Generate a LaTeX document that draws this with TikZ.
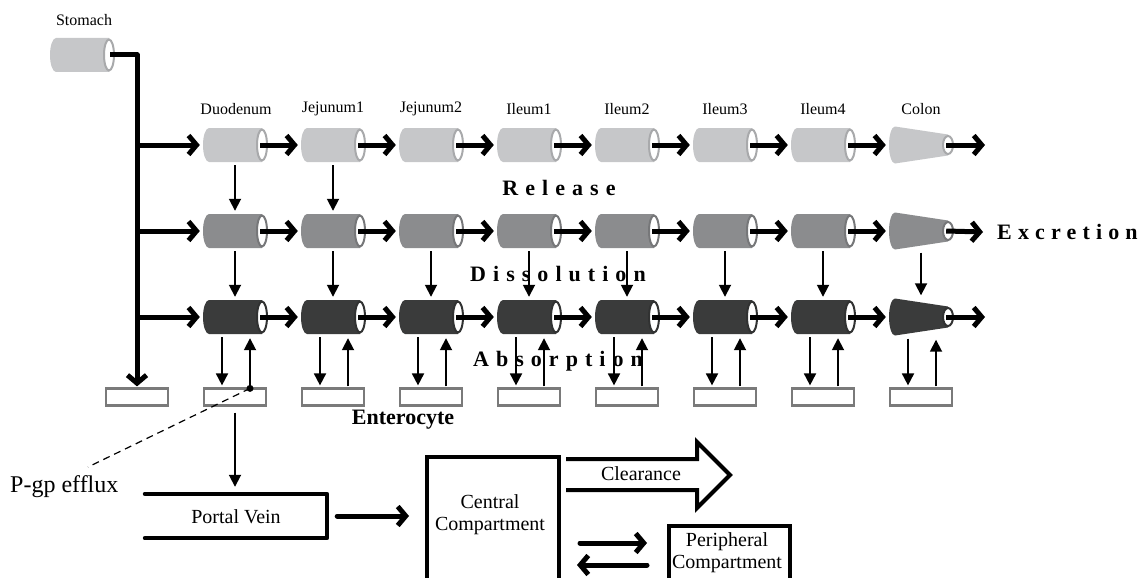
\documentclass[tikz,border=0pt]{standalone}
\usepackage{fontspec}
\setmainfont{Liberation Serif}
\newfontfamily\spacedfont[LetterSpace=32]{Liberation Serif}
\newfontfamily\spacedfontb[LetterSpace=28]{Liberation Serif}
\usetikzlibrary{arrows.meta}
\definecolor{cLight}{HTML}{C6C7C9}
\definecolor{cMid}{HTML}{8B8C8E}
\definecolor{cDark}{HTML}{3A3B3B}
\definecolor{cBox}{HTML}{7A7A7A}
\newcommand\fsLab{\fontsize{16}{18}\selectfont}
\newcommand\fsMid{\fontsize{20}{22}\selectfont}
\newcommand\fsSp{\spacedfont\bfseries\fontsize{22}{24}\selectfont}
\newcommand\fsSpb{\spacedfontb\bfseries\fontsize{22}{24}\selectfont}
% cylinder: name, cx, cy, colour
\newcommand\mycyl[4]{%
  \fill[#4] ({#2+27},{#3-17}) -- ({#2-26},{#3-17})
     arc[start angle=270,end angle=90,x radius=6,y radius=17]
     -- ({#2+27},{#3+17}) -- cycle;
  \draw[line width=2pt,#4!85!black,fill=white] ({#2+27},{#3}) ellipse[x radius=5,y radius=15.5];
  \node[cylnode] (#1) at (#2,#3) {};
}
% cone (colon): name, cx, cy, colour
\newcommand\mycone[4]{%
  \fill[#4] ({#2+27},{#3-10.5}) -- ({#2-26},{#3-18.5})
     arc[start angle=270,end angle=90,x radius=6,y radius=18.5]
     -- ({#2+27},{#3+10.5}) -- cycle;
  \draw[line width=2pt,#4!85!black,fill=white] ({#2+27},{#3}) ellipse[x radius=5,y radius=9];
  \node[cylnode,minimum height=37pt] (#1) at (#2,#3) {};
}
\begin{document}
\begin{tikzpicture}[x=1pt,y=-1pt,
  thickarr/.style={line width=5pt,-{Straight Barb[length=8pt,width=19pt]}},
  thinarr/.style={line width=1.8pt,-{Triangle[length=12pt,width=12pt]}},
  cylnode/.style={minimum width=64pt,minimum height=34pt,inner sep=0pt},
  entbox/.style={draw=cBox,line width=2.2pt,fill=white,minimum width=62pt,minimum height=17pt,inner sep=0pt},
  bigbox/.style={draw,line width=4pt,inner sep=0pt},
  lab/.style={font=\fsLab,inner sep=0pt}]
\useasboundingbox (0,0) rectangle (1143,578);

% stomach
\mycyl{st}{82}{55}{cLight}
\node[lab] (stlab) at (84,20) {Stomach};
\coordinate (jn) at (137,55);

% rows
\foreach \i/\x in {1/235,2/333,3/431,4/529,5/627,6/725,7/823}{
  \mycyl{a\i}{\x}{145}{cLight}
  \mycyl{b\i}{\x}{231}{cMid}
  \mycyl{d\i}{\x}{317}{cDark}
}
\mycone{a8}{921}{145}{cLight}
\mycone{b8}{921}{231}{cMid}
\mycone{d8}{921}{317}{cDark}

% labels
\foreach \i/\x/\t in {1/236/Duodenum,2/333/Jejunum1,3/431/Jejunum2,4/529/Ileum1,5/627/Ileum2,6/725/Ileum3,7/823/Ileum4,8/921/Colon}{
  \node[lab] (lab\i) at (\x,109) {\t};
}

% enterocytes
\foreach \i/\x in {0/137,1/235,2/333,3/431,4/529,5/627,6/725,7/823,8/921}{
  \node[entbox] (e\i) at (\x,397) {};
}

% stomach trunk
\draw[thickarr,line join=round] ([xshift=-4pt]st.east) -- (jn) -- ([yshift=1pt]e0.north);
\foreach \r in {a,b,d}{
  \draw[thickarr] (jn |- \r1.west) -- ([xshift=-3pt]\r1.west);
}

% horizontal chain
\foreach \r in {a,b,d}{
  \foreach \i [evaluate=\i as \j using int(\i+1)] in {1,...,7}{
    \draw[thickarr] ([xshift=-7pt]\r\i.east) -- ([xshift=-3pt]\r\j.west);
  }
}
\coordinate (aend) at (985,145);
\coordinate (dend) at (985,317);
\node[font=\fsSpb,anchor=west,inner sep=0pt] (excr) at (997,232) {Excretion};
\draw[thickarr] ([xshift=-7pt]a8.east) -- (aend);
\draw[thickarr] ([xshift=-7pt]b8.east) -- ([xshift=-14pt]excr.west);
\draw[thickarr] ([xshift=-7pt]d8.east) -- (dend);

% release arrows
\foreach \i in {1,2}{
  \draw[thinarr,shorten <=3pt,shorten >=3pt] (a\i.south) -- (b\i.north);
}
\foreach \i in {1,...,8}{
  \draw[thinarr,shorten <=3pt,shorten >=3pt] (b\i.south) -- (d\i.north);
}
% absorption arrows
\foreach \i in {1,...,8}{
  \draw[thinarr,shorten <=3pt,shorten >=2pt] ([xshift=-13pt]d\i.south) -- ([xshift=-13pt]e\i.north);
}
\foreach \i in {2,...,8}{
  \draw[thinarr,shorten <=1pt,shorten >=4pt] ([xshift=15pt]e\i.north) -- ([xshift=15pt]d\i.south);
}
\node[circle,fill,inner sep=0pt,minimum size=7pt] (dot) at ([xshift=15pt,yshift=-1pt]e1.north) {};
\draw[thinarr,shorten >=4pt] (dot.center) -- ([xshift=15pt]d1.south);

% process labels
\node[font=\fsSp,inner sep=0pt] (rel) at (559,188) {Release};
\node[font=\fsSp,inner sep=0pt] (dis) at (558,274) {Dissolution};
\node[font=\fsSp,inner sep=0pt] (abs) at (558,361) {Absorption};
\node[font=\bfseries\fontsize{22}{24}\selectfont,inner sep=0pt] (ent) at (403,420) {Enterocyte};

% P-gp efflux
\node[font=\fontsize{24}{26}\selectfont,inner sep=0pt,anchor=base west] (pgp) at (10,492) {P-gp efflux};
\coordinate (pgpend) at (88,467);
\draw[line width=1.2pt,dash pattern=on 7pt off 5pt] (dot.center) -- (pgpend);

% portal vein
\node[minimum width=182pt,minimum height=44pt,inner sep=0pt] (portal) at (236,516) {};
\node[font=\fsMid,inner sep=0pt] (portaltxt) at (236,517) {Portal Vein};
\draw[line width=4pt,line cap=round,line join=round] (portal.north west) -- (portal.north east) -- (portal.south east) -- (portal.south west);
\draw[thinarr,shorten <=6pt,shorten >=7pt] (e1.south) -- (e1.south |- portal.north);

% central compartment
\node[bigbox,minimum width=132pt,minimum height=160pt,anchor=north west] (central) at (425,455) {};
\node[font=\fsMid,align=center,inner sep=0pt] (centraltxt) at (490,515) {Central\\Compartment};
\draw[thickarr,line cap=round] ([xshift=10pt]portal.east) -- ([xshift=-16pt]central.west |- portal.east);

% clearance
\draw[line width=4pt,line join=miter] (566,459) -- (697,459) -- (697,442) -- (730,475) -- (697,508) -- (697,490) -- (566,490);
\node[font=\fsMid,inner sep=0pt] (clear) at (641,474) {Clearance};

% peripheral
\node[bigbox,minimum width=121pt,minimum height=100pt,anchor=north west] (periph) at (667,524) {};
\node[font=\fsMid,align=center,inner sep=0pt] (periphtxt) at (727,553) {Peripheral\\Compartment};
\coordinate (ra) at (580,543);
\coordinate (rb) at (647,543);
\coordinate (la) at (647,565);
\coordinate (lb) at (577,565);
\draw[thickarr,line cap=round] (ra) -- (rb);
\draw[thickarr,line cap=round] (la) -- (lb);
\end{tikzpicture}
\end{document}
